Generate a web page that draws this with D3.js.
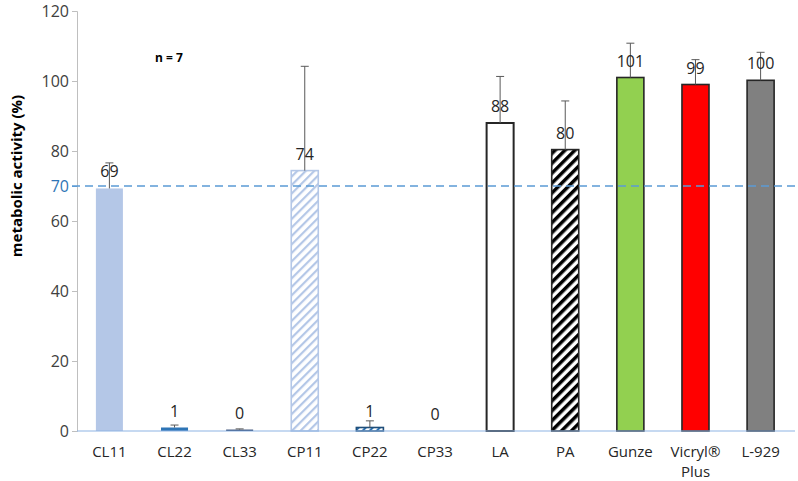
<!DOCTYPE html>
<html>
<head>
<meta charset="utf-8">
<script src="https://cdn.jsdelivr.net/npm/d3@7"></script>
<style>
	body { margin: 0; background: #fff; }
	svg text { font-family: "Open Sans", "DejaVu Sans", sans-serif; fill: #262626; }
</style>
</head>
<body>
<script>
"use strict";

// Chart data

let categories 	= ["CL11", "CL22", "CL33", "CP11", "CP22", "CP33", "LA", "PA", "Gunze", "Vicryl®|Plus", "L-929"];
let meanValues 	= [69.3, 1.0, 0.4, 74.4, 1.0, 0, 88.0, 80.4, 101.0, 99.0, 100.2];
let sdValues 	= [7.3, 0.7, 0.2, 29.8, 1.9, 0, 13.3, 13.9, 9.8, 7.1, 8.0];
let yTickValues = [0, 20, 40, 60, 70, 80, 100, 120];
let thresholdValue = 70;
let sampleNote 	= "n = 7";

// fill / stroke for each bar (hatched ones use patterns)
let barFills 	= ["#b4c7e7", "#2e75b6", "#1f3864", "url(#hatchLight)", "url(#hatchBlue)", "none", "#ffffff", "url(#hatchBlack)", "#92d050", "#ff0000", "#808080"];
let barStrokes 	= ["none", "none", "none", "#b4c7e7", "#1f4e79", "none", "#262626", "#262626", "#262626", "#262626", "#262626"];

function draw () {

	var canvasWidth = 798,
		canvasHeight = 481;

	var svg = d3.select("body")
		.append("svg")
			.attr("width", canvasWidth)
			.attr("height", canvasHeight);

	// hatch patterns
	var defs = svg.append("defs");

	function addHatch (id, size, stripe, color, bg) {
		let p = defs.append("pattern")
			.attr("id", id)
			.attr("patternUnits", "userSpaceOnUse")
			.attr("width", size)
			.attr("height", size)
			.attr("patternTransform", "rotate(45)");
		p.append("rect").attr("width", size).attr("height", size).attr("fill", bg);
		p.append("rect").attr("width", stripe).attr("height", size).attr("fill", color);
	}

	addHatch("hatchLight", 6, 2.2, "#b4c7e7", "#ffffff");
	addHatch("hatchBlue", 5, 2, "#2e75b6", "#ffffff");
	addHatch("hatchBlack", 7, 3.5, "#000000", "#ffffff");

	var xScale = d3.scaleBand()
		.domain(categories)
		.range([77, 793])
		.paddingInner(0.585)
		.paddingOuter(0.29);

	var yScale = d3.scaleLinear()
		.domain([0, 120])
		.range([431, 11]);

	// y axis
	var yAxis = svg.append("g")
		.attr("transform", "translate(77,0)")
		.call(d3.axisLeft(yScale).tickValues(yTickValues).tickSize(5).tickPadding(3));

	yAxis.select(".domain").attr("stroke", "#bfbfbf");
	yAxis.selectAll(".tick line").attr("stroke", "#bfbfbf");
	yAxis.selectAll(".tick text")
		.style("font-size", "16px")
		.style("font-family", "'Open Sans', sans-serif")
		.style("fill", function (d) { return d === thresholdValue ? "#2e75b6" : "#404040"; });

	yAxis.selectAll(".tick line")
		.filter(function (d) { return d === thresholdValue; })
		.attr("stroke", "#5b9bd5");

	// y title
	svg.append("text")
		.attr("transform", "translate(22," + 176 + ") rotate(-90)")
		.attr("text-anchor", "middle")
		.style("font-size", "15px")
		.style("font-weight", "bold")
		.style("fill", "#000")
		.text("metabolic activity (%)");

	// bars
	svg.selectAll(".bar")
		.data(categories)
		.enter()
		.append("rect")
			.attr("class", "bar")
			.attr("x", function (d) { return xScale(d); })
			.attr("width", xScale.bandwidth())
			.attr("y", function (d, i) { return yScale(meanValues[i]); })
			.attr("height", function (d, i) { return yScale(0) - yScale(meanValues[i]); })
			.attr("fill", function (d, i) { return barFills[i]; })
			.attr("stroke", function (d, i) { return barStrokes[i]; })
			.attr("stroke-width", function (d, i) { return categories[i] === "LA" ? 2 : 1.6; });

	// x axis baseline
	svg.append("line")
		.attr("x1", 77)
		.attr("x2", 795)
		.attr("y1", yScale(0))
		.attr("y2", yScale(0))
		.attr("stroke", "#8eb4e3")
		.attr("stroke-width", 1.2);

	// threshold dashed line
	svg.append("line")
		.attr("x1", 72)
		.attr("x2", 795)
		.attr("y1", yScale(thresholdValue))
		.attr("y2", yScale(thresholdValue))
		.attr("stroke", "#5b9bd5")
		.attr("stroke-width", 1.5)
		.attr("stroke-dasharray", "8,5");

	// error bars
	var errGroup = svg.append("g")
		.attr("stroke", "#595959")
		.attr("stroke-width", 1);

	categories.forEach(function (c, i) {
		if (sdValues[i] <= 0) { return; }
		let cx = xScale(c) + xScale.bandwidth() / 2,
			yTop = yScale(meanValues[i] + sdValues[i]),
			yBar = yScale(meanValues[i]);
		errGroup.append("line").attr("x1", cx).attr("x2", cx).attr("y1", yBar).attr("y2", yTop);
		errGroup.append("line").attr("x1", cx - 4).attr("x2", cx + 4).attr("y1", yTop).attr("y2", yTop);
	});

	// value labels
	svg.selectAll(".valueLabel")
		.data(categories)
		.enter()
		.append("text")
			.attr("class", "valueLabel")
			.attr("x", function (d) { return xScale(d) + xScale.bandwidth() / 2; })
			.attr("y", function (d, i) { return yScale(meanValues[i]) - 11; })
			.attr("text-anchor", "middle")
			.style("font-size", "16px")
			.text(function (d, i) { return d3.format(".0f")(meanValues[i]); });

	// category labels (| splits lines)
	svg.selectAll(".catLabel")
		.data(categories)
		.enter()
		.append("text")
			.attr("class", "catLabel")
			.attr("text-anchor", "middle")
			.style("font-size", "15px")
			.each(function (d) {
				let t = d3.select(this),
					cx = xScale(d) + xScale.bandwidth() / 2;
				d.split("|").forEach(function (line, k) {
					t.append("tspan")
						.attr("x", cx)
						.attr("y", 457 + k * 20)
						.text(line);
				});
			});

	// n note
	svg.append("text")
		.attr("x", 155)
		.attr("y", 62)
		.style("font-size", "12px")
		.style("font-weight", "bold")
		.style("fill", "#000")
		.text(sampleNote);
};

draw();
</script>
</body>
</html>
